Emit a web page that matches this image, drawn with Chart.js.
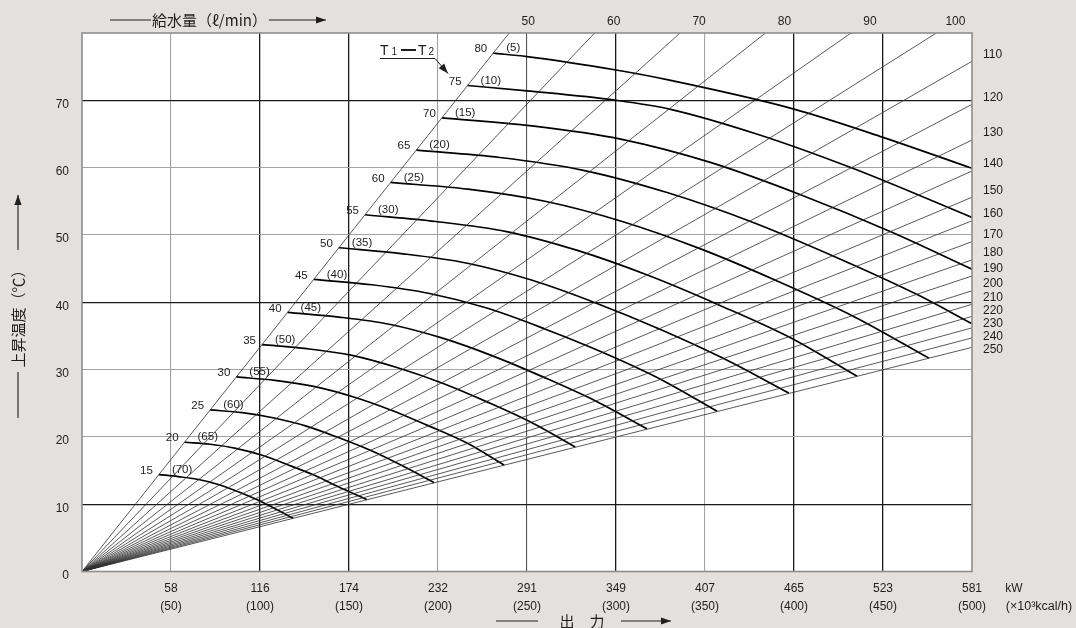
<!DOCTYPE html>
<html><head><meta charset="utf-8">
<script src="https://cdn.jsdelivr.net/npm/chart.js@4.4.1/dist/chart.umd.min.js"></script>
<style>
html,body{margin:0;padding:0;background:#e3e0dd;}
#wrap{width:1076px;height:628px;position:relative;}
</style></head><body>
<div id="wrap"><canvas id="c" width="1076" height="628"></canvas></div>
<script>
// ---------- data ----------
const kcalTickValues = [0,50,100,150,200,250,300,350,400,450,500];
const kwTicks   = ['58','116','174','232','291','349','407','465','523','581'];
const kcalTicks = ['(50)','(100)','(150)','(200)','(250)','(300)','(350)','(400)','(450)','(500)'];
const yTickValues = [0,10,20,30,40,50,60,70];

// flow-rate lines (ℓ/min): those leaving through the top (ΔT = 80) and through the right edge (Q = 500)
const flowTop = [50,60,70,80,90,100];
const flowTopEndQ = [240,288,336,384,432,480];
const flowRight = [110,120,130,140,150,160,170,180,190,200,210,220,230,240,250];
const flowRightEndT = [75.8,69.4,64.1,59.5,55.6,52.1,49.0,46.3,43.9,41.7,39.7,37.9,36.2,34.7,33.3];

// T1−T2 curves
const curveNames  = ['80','75','70','65','60','55','50','45','40','35','30','25','20','15'];
const curveParens = ['(5)','(10)','(15)','(20)','(25)','(30)','(35)','(40)','(45)','(50)','(55)','(60)','(65)','(70)'];
const q80 = [231,250,300,330,400,450,500];            const t80 = [77.0,76.5,74.5,73.0,68.7,64.5,59.9];
const q75 = [216.6,250,300,330,379,433,500];          const t75 = [72.2,71.4,70.0,68.7,65.0,59.9,52.6];
const q70 = [202.2,252.8,303.3,353.9,404.4,455,500];  const t70 = [67.4,66.2,64.2,60.7,55.9,50.4,44.9];
const q65 = [187.8,234.8,281.7,328.7,375.6,422.6,469.5,500]; const t65 = [62.6,61.5,59.6,56.3,52.0,46.8,41.1,36.8];
const q60 = [173.4,216.8,260.1,303.5,346.8,390.2,433.5,475.8]; const t60 = [57.8,56.8,55.0,52.0,48.0,43.2,37.9,31.7];
const q55 = [159,198.8,238.5,278.3,318,357.8,397.5,435.5];     const t55 = [53.0,52.0,50.5,47.7,44.0,39.6,34.8,29.0];
const q50 = [144.3,180.4,216.5,252.5,288.6,324.7,360.8,397.1]; const t50 = [48.1,47.2,45.8,43.3,39.9,36.0,31.6,26.5];
const q45 = [130.2,162.8,195.3,227.9,260.4,293,325.5,356.8];   const t45 = [43.4,42.6,41.3,39.1,36.0,32.5,28.5,23.8];
const q40 = [115.5,144.4,173.3,202.1,231,259.9,288.8,317.4];   const t40 = [38.5,37.8,36.7,34.7,32.0,28.8,25.3,21.2];
const q35 = [101.1,126.4,151.7,176.9,202.2,227.5,252.8,277.1]; const t35 = [33.7,33.1,32.1,30.3,28.0,25.2,22.1,18.5];
const q30 = [86.7,108.4,130.1,151.7,173.4,195.1,216.8,237.2];  const t30 = [28.9,28.4,27.5,26.0,24.0,21.6,19.0,15.8];
const q25 = [72,90,108,126,144,162,180,197.8];                 const t25 = [24.0,23.6,22.8,21.6,19.9,18.0,15.7,13.2];
const q20 = [57.6,72,86.4,100.8,115.2,129.6,144,160];          const t20 = [19.2,18.9,18.3,17.3,15.9,14.4,12.6,10.7];
const q15 = [43.2,54,64.8,75.6,86.4,97.2,108,118.6];           const t15 = [14.4,14.1,13.7,13.0,12.0,10.8,9.4,7.9];
const curveQ = [q80,q75,q70,q65,q60,q55,q50,q45,q40,q35,q30,q25,q20,q15];
const curveT = [t80,t75,t70,t65,t60,t55,t50,t45,t40,t35,t30,t25,t20,t15];

// ---------- styling ----------
const W = 1076, H = 628;
const FONT = '"Liberation Sans", Arial, Helvetica, sans-serif';
const JFONT = '"Noto Sans CJK JP", "Noto Sans", sans-serif';
const TXT = '#1e1e1e';
const darkX = [100,150,300,400,450], midX = [250];
const darkY = [10,40,70];

const datasets = [];
flowTop.forEach((f,i)=>datasets.push({data:[{x:0,y:0},{x:flowTopEndQ[i],y:80}],
  borderColor:'#2e2e2e', borderWidth:0.8, pointRadius:0, tension:0}));
flowRight.forEach((f,i)=>datasets.push({data:[{x:0,y:0},{x:500,y:flowRightEndT[i]}],
  borderColor:'#2e2e2e', borderWidth:0.8, pointRadius:0, tension:0}));
curveQ.forEach((qs,k)=>datasets.push({data:qs.map((q,j)=>({x:q,y:curveT[k][j]})),
  borderColor:'#000', borderWidth:1.7, pointRadius:0, cubicInterpolationMode:'monotone'}));

function arrow(ctx,x1,y1,x2,y2){
  ctx.beginPath(); ctx.moveTo(x1,y1); ctx.lineTo(x2,y2); ctx.stroke();
  const a = Math.atan2(y2-y1,x2-x1), L = 10, w = 3.6;
  ctx.beginPath();
  ctx.moveTo(x2,y2);
  ctx.lineTo(x2-L*Math.cos(a)+w*Math.sin(a), y2-L*Math.sin(a)-w*Math.cos(a));
  ctx.lineTo(x2-L*Math.cos(a)-w*Math.sin(a), y2-L*Math.sin(a)+w*Math.cos(a));
  ctx.closePath(); ctx.fill();
}
function line(ctx,x1,y1,x2,y2){ctx.beginPath();ctx.moveTo(x1,y1);ctx.lineTo(x2,y2);ctx.stroke();}

const deco = {
  id:'deco',
  beforeDraw(chart){
    const {ctx, chartArea:a} = chart;
    ctx.save();
    ctx.fillStyle = '#e3e0dd'; ctx.fillRect(0,0,W,H);
    ctx.fillStyle = '#ffffff'; ctx.fillRect(a.left,a.top,a.right-a.left,a.bottom-a.top);
    ctx.restore();
  },
  afterDraw(chart){
    const {ctx, chartArea:a, scales:{x,y}} = chart;
    ctx.save();
    // plot frame
    ctx.strokeStyle = '#8e8e8e'; ctx.lineWidth = 1.6;
    ctx.strokeRect(a.left, a.top, a.right-a.left, a.bottom-a.top);

    ctx.fillStyle = TXT; ctx.strokeStyle = TXT;
    // curve labels
    ctx.font = '11.5px ' + FONT; ctx.textBaseline = 'middle';
    curveQ.forEach((qs,k)=>{
      const px = x.getPixelForValue(qs[0]), py = y.getPixelForValue(curveT[k][0]);
      ctx.textAlign = 'right'; ctx.fillText(curveNames[k], px-6, py-4);
      ctx.textAlign = 'left';  ctx.fillText(curveParens[k], px+13, py-5);
    });
    // flow labels, top
    ctx.font = '12px ' + FONT; ctx.textAlign = 'center';
    flowTop.forEach((f,i)=>{
      ctx.fillText(String(f), x.getPixelForValue(flowTopEndQ[i])+19, 22);
    });
    // flow labels, right
    ctx.textAlign = 'left';
    let prev = -1e9;
    flowRight.forEach((f,i)=>{
      let yy = Math.max(y.getPixelForValue(flowRightEndT[i]) - 7, prev + 13);
      prev = yy;
      ctx.fillText(String(f), a.right + 11, yy);
    });
    // units of x axis
    ctx.textAlign = 'center';
    ctx.fillText('kW', a.right + 42, a.bottom + 17.5);
    ctx.font = '12.5px ' + FONT;
    ctx.fillText('(×10³kcal/h)', a.right + 67, a.bottom + 35.5);

    // T1−T2 annotation
    const tx = 380, ty = 55;
    ctx.textAlign = 'left'; ctx.textBaseline = 'alphabetic';
    ctx.font = '14px ' + FONT; ctx.fillText('T', tx, ty);
    ctx.font = '10px ' + FONT; ctx.fillText('1', tx+11.5, ty);
    ctx.lineWidth = 2; line(ctx, tx+21, ty-5, tx+36, ty-5);
    ctx.font = '14px ' + FONT; ctx.fillText('T', tx+38, ty);
    ctx.font = '10px ' + FONT; ctx.fillText('2', tx+48.5, ty);
    ctx.lineWidth = 1;
    line(ctx, tx, ty+3.5, tx+55, ty+3.5);
    arrow(ctx, tx+55, ty+3.5, tx+68, ty+18.5);

    // top title
    ctx.lineWidth = 1.1;
    ctx.font = '15px ' + JFONT; ctx.textBaseline = 'middle'; ctx.textAlign = 'left';
    const tt = '給水量（ℓ/min）';
    line(ctx, 110, 20, 151, 20);
    ctx.fillText(tt, 152, 20);
    const tw = ctx.measureText(tt).width;
    arrow(ctx, 152+tw+2, 20, 326, 20);

    // bottom title
    ctx.textAlign = 'center';
    line(ctx, 496, 621, 538, 621);
    ctx.fillText('出　力', 582, 621);
    arrow(ctx, 621, 621, 671, 621);

    // left title
    ctx.save();
    ctx.translate(18, 315); ctx.rotate(-Math.PI/2);
    ctx.fillText('上昇温度（℃）', 0, 0);
    ctx.restore();
    line(ctx, 18, 418, 18, 372);
    arrow(ctx, 18, 250, 18, 195);
    ctx.restore();
  }
};

new Chart(document.getElementById('c'), {
  type:'line',
  data:{datasets},
  plugins:[deco],
  options:{
    responsive:false, animation:false, devicePixelRatio:1,
    layout:{padding:{left:0,right:104,top:33,bottom:0}},
    plugins:{legend:{display:false}, tooltip:{enabled:false}, title:{display:false}},
    scales:{
      x:{
        type:'linear', min:0, max:500,
        afterBuildTicks(s){ s.ticks = kcalTickValues.map(v=>({value:v})); },
        afterFit(s){ s.height = 56.5; },
        grid:{drawTicks:false,
          color:c=>{const v=c.tick&&c.tick.value; if(v===0||v===500) return 'rgba(0,0,0,0)';
            return darkX.includes(v)?'#1a1a1a':(midX.includes(v)?'#555':'#a3a3a3');},
          lineWidth:c=>{const v=c.tick&&c.tick.value; return darkX.includes(v)?1.3:1.1;}},
        border:{display:false},
        ticks:{autoSkip:false, maxRotation:0, padding:8, color:TXT,
          font:{family:FONT,size:12,lineHeight:1.5},
          callback:(v)=>{const i=kcalTickValues.indexOf(v); return i<=0?'':[kwTicks[i-1],kcalTicks[i-1]];}}
      },
      y:{
        type:'linear', min:0, max:80,
        afterBuildTicks(s){ s.ticks = yTickValues.concat([80]).map(v=>({value:v})); },
        afterFit(s){ s.width = 82; },
        grid:{drawTicks:false,
          color:c=>{const v=c.tick&&c.tick.value; if(v===0||v===80) return 'rgba(0,0,0,0)';
            return darkY.includes(v)?'#1a1a1a':'#a3a3a3';},
          lineWidth:c=>{const v=c.tick&&c.tick.value; return darkY.includes(v)?1.3:1.1;}},
        border:{display:false},
        ticks:{padding:13, labelOffset:4, color:TXT, font:{family:FONT,size:12},
          callback:(v)=>yTickValues.includes(v)?String(v):''}
      }
    }
  }
});
</script>
</body></html>
